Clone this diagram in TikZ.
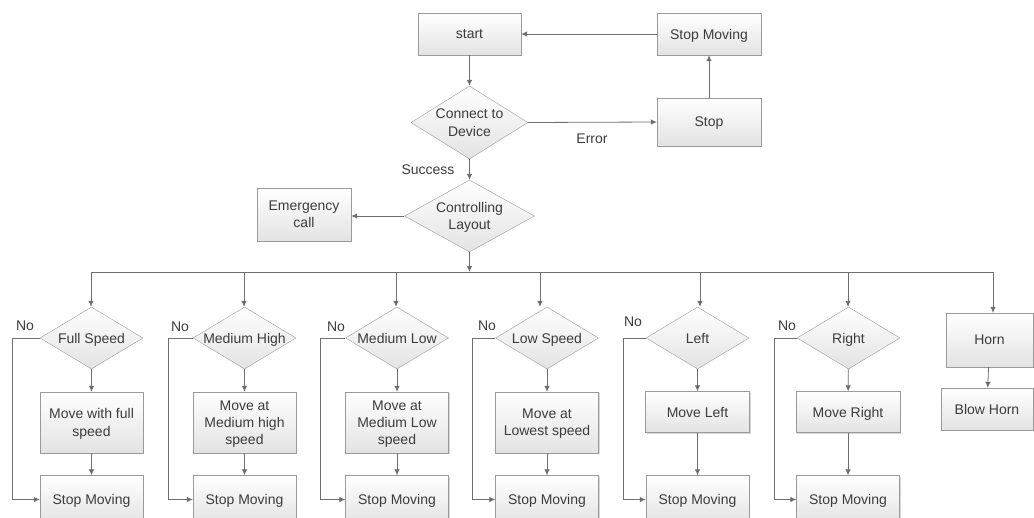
\documentclass[tikz,border=0pt]{standalone}
\usepackage{fontspec}
\setmainfont{Liberation Sans}
\usepackage{tikz}
\usetikzlibrary{shapes.geometric,arrows.meta,shadows}
\definecolor{linegray}{HTML}{6E6E6E}
\definecolor{edgegray}{HTML}{9A9A9A}
\definecolor{textgray}{HTML}{3C3C3C}
\tikzset{
	procbox/.style={draw=edgegray, top color=white, bottom color=black!11, text=textgray,
		align=center, inner sep=0pt, text depth=0pt, drop shadow={shadow xshift=1.2pt, shadow yshift=-1.2pt, fill=black!30, opacity=0.5}},
	decision/.style={diamond, draw=edgegray, top color=white, bottom color=black!11, inner sep=0pt, text=textgray},
	conn/.style={draw=linegray, line width=0.8pt, -{Latex[length=6pt,width=5.5pt]}},
	plain/.style={draw=linegray, line width=0.8pt},
	txt/.style={text=textgray, inner sep=0pt}
}
\def\procnode(#1)(#2,#3)[#4:#5]#6{\node[procbox, minimum width=#4pt, minimum height=#5pt] (#1) at (#2,#3) {#6};}
\def\decnode(#1)(#2,#3)[#4:#5]#6{\node[decision, minimum width=#4pt, minimum height=#5pt, label={[txt, align=center, text depth=0pt]center:#6}] (#1) at (#2,#3) {};}

\begin{document}
\begin{tikzpicture}[x=1pt, y=-1pt, font=\fontsize{14}{17.3}\selectfont]
			%%%%% START %%%%%
			\useasboundingbox (0,0) rectangle (1034,517);
			\clip (0,0) rectangle (1034,517);
			
			% top part
			\procnode(start)(469.5,34)[103:42]{start}
			\procnode(stopmv)(709,34)[104:42]{Stop Moving}
			\decnode(conn)(469.5,122.5)[117:73]{Connect to\\Device}
			\procnode(stop)(709,122)[104:48]{Stop}
			\decnode(ctrl)(469.5,216)[130:72]{Controlling\\Layout}
			\procnode(emerg)(304,214.5)[94:53]{Emergency\\call}
			
			\draw[conn] (start) -- (conn);
			\draw[conn] (conn.east) -- (stop.west);
			\draw[conn] (stop) -- (stopmv);
			\draw[conn] (stopmv) -- (start);
			\draw[conn] (conn) -- (ctrl);
			\draw[conn] (ctrl.west) -- (emerg.east |- ctrl.west);
			
			\node[txt] (err) at (592,139) {Error};
			\node[txt] (succ) at (428,170) {Success};
			
			% bus
			\coordinate (bus) at (469.5,272);
			\coordinate (busL) at (91,272);
			\coordinate (busR) at (993,272);
			\draw[conn] (ctrl) -- (bus);
			\draw[plain] (busL) -- (busR);
			
			% columns
			\decnode(fs)(91.5,338)[103:62]{Full Speed}
			\decnode(mh)(244.5,338)[103:62]{Medium High}
			\decnode(ml)(397,338)[103:62]{Medium Low}
			\decnode(ls)(547,338)[103:62]{Low Speed}
			\decnode(lt)(697.5,338)[103:62]{Left}
			\decnode(rt)(848.5,338)[103:62]{Right}
			\procnode(horn)(989.5,340)[87:54]{Horn}
			
			\procnode(mvfs)(91.5,422.5)[103:61]{Move with full\\speed}
			\procnode(mvmh)(244.5,422.5)[103:61]{Move at\\Medium high\\speed}
			\procnode(mvml)(397,422.5)[103:61]{Move at\\Medium Low\\speed}
			\procnode(mvls)(547,422.5)[103:61]{Move at\\Lowest speed}
			\procnode(mvlt)(697.5,412)[104:41]{Move Left}
			\procnode(mvrt)(848,412)[104:41]{Move Right}
			\procnode(blow)(987,409)[92:42]{Blow Horn}
			
			\foreach \n/\x in {fs/91.5, mh/244.5, ml/397, ls/547, lt/697.5, rt/848}{
				\procnode(sm\n)(\x,499.5)[103:48]{Stop Moving}
			}
			
			\foreach \x/\n in {91/fs,244/mh,396/ml,540/ls,700/lt,848/rt,993/horn}{
				\coordinate (b\n) at (\x,272);
				\draw[conn] (b\n) -- (b\n |- \n.north);
			}
			
			\foreach \n/\lx/\nx/\ny in {fs/12/25/326, mh/168/180/327, ml/320/336/327, ls/472/487/326, lt/623/633/322, rt/774/787/326}{
				\draw[conn] (\n) -- (mv\n);
				\draw[conn] (mv\n) -- (sm\n);
				\draw[conn] (\n.west) -- (\lx,338) -- (\lx,499.5) -- (sm\n.west);
				\node[txt] (no\n) at (\nx,\ny) {No};
			}
			\draw[conn] (horn) -- (blow);
			
			%%%%% END %%%%%
		\end{tikzpicture}
\end{document}
